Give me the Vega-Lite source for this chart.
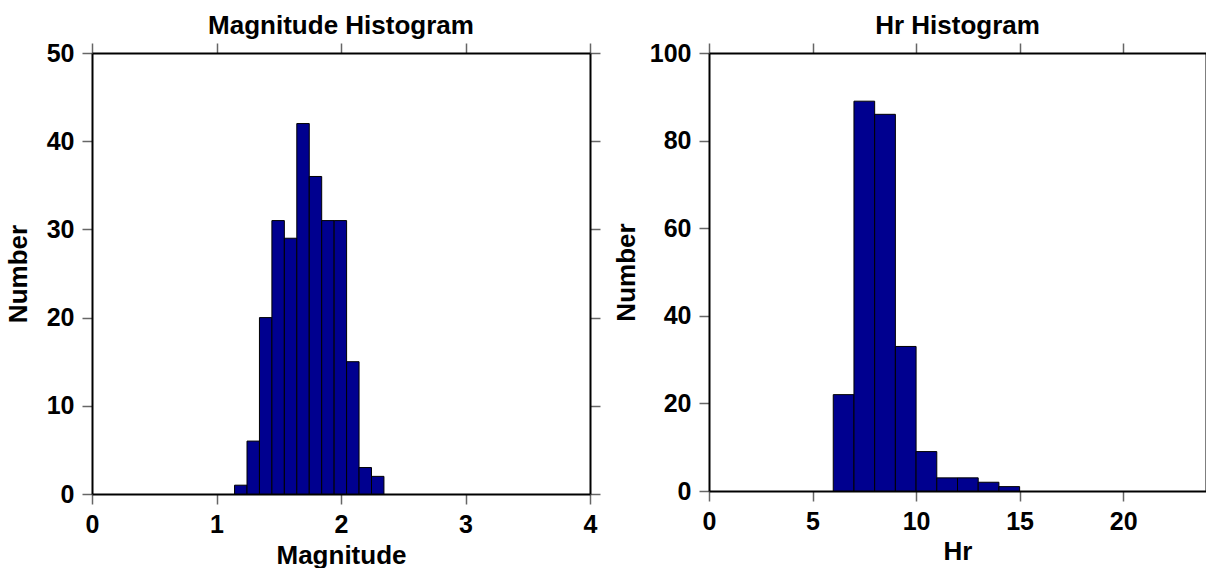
{
  "$schema": "https://vega.github.io/schema/vega-lite/v6.json",
  "padding": {"left": 5, "top": 13, "right": 0, "bottom": 0},
  "background": "white",
  "bounds": "flush",
  "spacing": 119,
  "datasets": {
    "mag": [
      {"lo": 1.145, "hi": 1.245, "count": 1},
      {"lo": 1.245, "hi": 1.345, "count": 6},
      {"lo": 1.345, "hi": 1.445, "count": 20},
      {"lo": 1.445, "hi": 1.545, "count": 31},
      {"lo": 1.545, "hi": 1.645, "count": 29},
      {"lo": 1.645, "hi": 1.745, "count": 42},
      {"lo": 1.745, "hi": 1.845, "count": 36},
      {"lo": 1.845, "hi": 1.945, "count": 31},
      {"lo": 1.945, "hi": 2.045, "count": 31},
      {"lo": 2.045, "hi": 2.145, "count": 15},
      {"lo": 2.145, "hi": 2.245, "count": 3},
      {"lo": 2.245, "hi": 2.345, "count": 2}
    ],
    "hr": [
      {"lo": 6, "hi": 7, "count": 22},
      {"lo": 7, "hi": 8, "count": 89},
      {"lo": 8, "hi": 9, "count": 86},
      {"lo": 9, "hi": 10, "count": 33},
      {"lo": 10, "hi": 11, "count": 9},
      {"lo": 11, "hi": 12, "count": 3},
      {"lo": 12, "hi": 13, "count": 3},
      {"lo": 13, "hi": 14, "count": 2},
      {"lo": 14, "hi": 15, "count": 1}
    ]
  },
  "hconcat": [
    {
      "width": 498,
      "height": 441,
      "title": "Magnitude Histogram",
      "data": {"name": "mag"},
      "layer": [
        {
          "mark": {"type": "bar", "color": "#00008F", "stroke": "black", "strokeWidth": 1},
          "encoding": {
            "x": {"field": "lo", "type": "quantitative", "scale": {"domain": [0, 4], "nice": false, "zero": false},
                  "axis": {"orient": "bottom", "values": [0, 1, 2, 3, 4], "title": "Magnitude", "titlePadding": 5}},
            "x2": {"field": "hi"},
            "y": {"field": "count", "type": "quantitative", "scale": {"domain": [0, 50], "nice": false},
                  "axis": {"orient": "left", "values": [0, 10, 20, 30, 40, 50], "title": "Number", "titlePadding": 15, "minExtent": 46, "maxExtent": 46}},
            "y2": {"datum": 0}
          }
        },
        {
          "mark": {"type": "bar", "opacity": 0},
          "encoding": {
            "x": {"field": "lo", "type": "quantitative", "axis": {"orient": "top", "values": [0, 1, 2, 3, 4], "labels": false, "title": null}},
            "x2": {"field": "hi"},
            "y": {"field": "count", "type": "quantitative", "axis": {"orient": "right", "values": [0, 10, 20, 30, 40, 50], "labels": false, "title": null}},
            "y2": {"datum": 0}
          }
        }
      ],
      "resolve": {"axis": {"x": "independent", "y": "independent"}}
    },
    {
      "width": 497,
      "height": 438,
      "title": "Hr Histogram",
      "data": {"name": "hr"},
      "layer": [
        {
          "mark": {"type": "bar", "color": "#00008F", "stroke": "black", "strokeWidth": 1},
          "encoding": {
            "x": {"field": "lo", "type": "quantitative", "scale": {"domain": [0, 24], "nice": false, "zero": false},
                  "axis": {"orient": "bottom", "values": [0, 5, 10, 15, 20], "title": "Hr", "titlePadding": 4}},
            "x2": {"field": "hi"},
            "y": {"field": "count", "type": "quantitative", "scale": {"domain": [0, 100], "nice": false},
                  "axis": {"orient": "left", "values": [0, 20, 40, 60, 80, 100], "title": "Number", "titlePadding": 10}},
            "y2": {"datum": 0}
          }
        },
        {
          "mark": {"type": "bar", "opacity": 0},
          "encoding": {
            "x": {"field": "lo", "type": "quantitative", "axis": {"orient": "top", "values": [0, 5, 10, 15, 20], "labels": false, "title": null}},
            "x2": {"field": "hi"},
            "y": {"field": "count", "type": "quantitative", "axis": {"orient": "right", "values": [0, 20, 40, 60, 80, 100], "labels": false, "title": null, "ticks": false}},
            "y2": {"datum": 0}
          }
        }
      ],
      "resolve": {"axis": {"x": "independent", "y": "independent"}}
    }
  ],
  "config": {
    "view": {"stroke": null},
    "font": "Liberation Sans",
    "axis": {
      "grid": false,
      "domainColor": "black",
      "domainWidth": 2,
      "tickColor": "#666666",
      "tickWidth": 1.5,
      "tickSize": 10,
      "labelFont": "Liberation Sans",
      "labelFontWeight": "bold",
      "labelFontSize": 25,
      "labelColor": "black",
      "labelPadding": 8,
      "labelFlush": false,
      "labelOverlap": false,
      "titleFont": "Liberation Sans",
      "titleFontWeight": "bold",
      "titleFontSize": 26,
      "titleColor": "black"
    },
    "title": {"font": "Liberation Sans", "fontSize": 26, "fontWeight": "bold", "color": "black", "offset": 2}
  }
}
